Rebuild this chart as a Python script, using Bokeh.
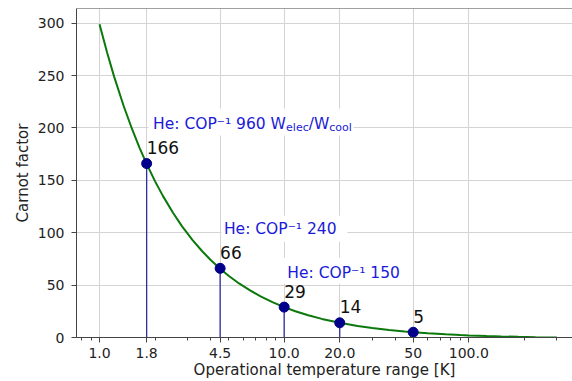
from bokeh.plotting import figure
from bokeh.models import Range1d, FixedTicker, CustomJSTickFormatter, Span, ColumnDataSource
from bokeh.embed import file_html
from bokeh.resources import INLINE
from bokeh.core.properties import value

# ---- data ----
curve_T = [1.0, 1.1, 1.2, 1.35, 1.5, 1.65, 1.8, 2.0, 2.2, 2.5, 2.8, 3.2, 3.6, 4.0, 4.5,
           5.0, 5.7, 6.5, 7.5, 8.7, 10.0, 11.5, 13.5, 16.0, 20.0, 25.0, 30.0, 37.0, 45.0,
           50.0, 60.0, 75.0, 90.0, 100.0, 125.0, 150.0, 185.0, 230.0, 270.0, 300.0]
curve_cf = [299, 271.7, 249, 221.2, 199, 180.8, 165.7, 149, 135.4, 119, 106.1, 92.75, 82.3, 74, 65.7,
            59, 51.6, 45.2, 39, 33.5, 29, 25.1, 21.2, 17.75, 14, 11, 9, 7.1, 5.67,
            5, 4, 3, 2.33, 2, 1.4, 1, 0.62, 0.3, 0.11, 0]

point_T = [1.8, 4.5, 10.0, 20.0, 50.0]
point_cf = [166, 66, 29, 14, 5]
point_labels = ["166", "66", "29", "14", "5"]

x_ticks = [1.0, 1.8, 4.5, 10.0, 20.0, 50.0, 100.0]
x_tick_labels = ["1.0", "1.8", "4.5", "10.0", "20.0", "50", "100.0"]
x_minor_ticks = [0.8, 0.9, 2, 3, 4, 5, 6, 7, 8, 9, 30, 40, 60, 70, 80, 90, 200, 300]
y_ticks = [0, 50, 100, 150, 200, 250, 300]

x_label = "Operational temperature range [K]"
y_label = "Carnot factor"

ann_T = [1.95, 4.72, 10.4]
ann_cf = [200, 100, 58]
ann_text = ["He: COP\u207b\u00b9 960 W", "He: COP\u207b\u00b9 240", "He: COP\u207b\u00b9 150"]
ann1_parts = ["elec", "/W", "cool"]

# white boxes behind the annotations (data coords)
box_left = [1.843, 4.58, 9.9]
box_right = [23.75, 22.0, 43.7]
box_bottom = [192.7, 91.7, 51.3]
box_top = [218.5, 116.3, 76.1]

FONT = value("DejaVu Sans")
BLUE = "#1a1ad8"

p = figure(width=572, height=381, x_axis_type="log",
           x_range=Range1d(0.7505, 364.5), y_range=Range1d(0, 314),
           output_backend="svg", toolbar_location=None,
           min_border_left=76, min_border_right=0, min_border_top=8, min_border_bottom=44,
           background_fill_color="white", border_fill_color="white",
           outline_line_color=None)

p.grid.grid_line_color = "#d4d4d4"
p.grid.grid_line_width = 1

p.xaxis.ticker = FixedTicker(ticks=x_ticks, minor_ticks=x_minor_ticks)
p.xgrid.ticker = FixedTicker(ticks=x_ticks)
p.xaxis.formatter = CustomJSTickFormatter(args=dict(tvals=x_ticks, tlabels=x_tick_labels), code="""
for (let i = 0; i < tvals.length; i++) {
  if (Math.abs(tvals[i] - tick) < 1e-6 * tvals[i]) { return tlabels[i]; }
}
return "";
""")
p.yaxis.ticker = FixedTicker(ticks=y_ticks, minor_ticks=[])
p.ygrid.ticker = FixedTicker(ticks=y_ticks)

for ax in (p.xaxis[0], p.yaxis[0]):
    ax.axis_line_color = "#444444"
    ax.axis_line_width = 1
    ax.major_tick_line_color = "#444444"
    ax.minor_tick_line_color = "#444444"
    ax.major_tick_in = 0
    ax.major_tick_out = 5
    ax.minor_tick_in = 0
    ax.minor_tick_out = 3
    ax.major_label_text_font = "DejaVu Sans"
    ax.major_label_text_font_size = "14px"
    ax.major_label_text_color = "#222222"
    ax.axis_label_text_font = "DejaVu Sans"
    ax.axis_label_text_font_size = "15px"
    ax.axis_label_text_font_style = "normal"
    ax.axis_label_text_color = "#222222"

p.yaxis.minor_tick_line_color = None
p.xaxis.axis_label = x_label
p.yaxis.axis_label = y_label
p.xaxis.major_label_standoff = 5
p.xaxis.axis_label_standoff = 0
p.yaxis.major_label_standoff = 7
p.yaxis.axis_label_standoff = 3

p.add_layout(Span(location=314, dimension="width", line_color="#444444", line_width=1))

p.line(curve_T, curve_cf, line_color="#0b780b", line_width=2)

seg = ColumnDataSource(dict(x=point_T, y=point_cf, base=[0] * len(point_T), label=point_labels))
p.segment(x0="x", y0="base", x1="x", y1="y", source=seg, line_color="#2e2ea0", line_width=1.3)
p.scatter("x", "y", source=seg, size=10, fill_color="#00008b", line_color="#00008b")
p.text(x="x", y="y", text="label", source=seg, x_offset=0, y_offset=-16,
       text_font=FONT, text_font_size="17px", text_color="#111111",
       text_align="left", text_baseline="alphabetic")

p.quad(left=box_left, right=box_right, bottom=box_bottom, top=box_top,
       fill_color="white", line_color=None)

p.text(x=ann_T, y=ann_cf, text=ann_text, text_font=FONT, text_font_size="15.5px",
       y_offset=-4, text_color=BLUE, text_align="left", text_baseline="alphabetic")
part_offsets = [133, 155.6, 176.2]
part_dy = [-0.5, -4, -0.5]
part_sizes = ["11px", "15.5px", "11px"]
for txt, dx, dy, fs in zip(ann1_parts, part_offsets, part_dy, part_sizes):
    p.text(x=[ann_T[0]], y=[ann_cf[0]], text=[txt], x_offset=dx, y_offset=dy,
           text_font=FONT, text_font_size=fs, text_color=BLUE,
           text_align="left", text_baseline="alphabetic")

open("out.html", "w").write(file_html(p, INLINE))
